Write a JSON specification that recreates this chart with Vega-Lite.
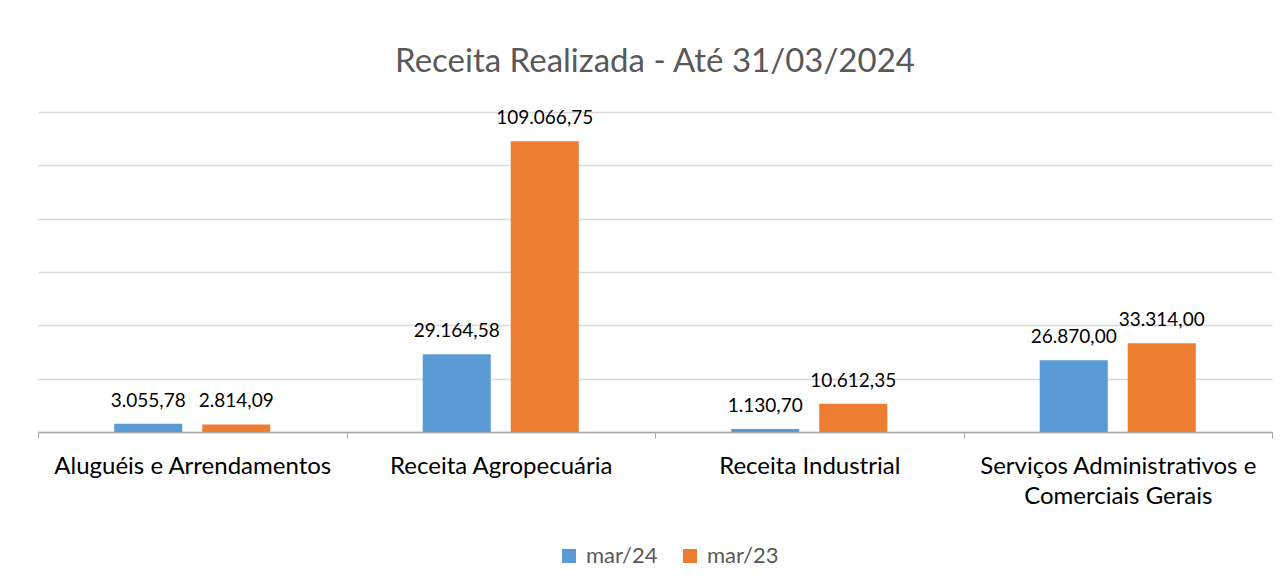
{
  "$schema": "https://vega.github.io/schema/vega-lite/v6.json",
  "width": 1234,
  "height": 320,
  "autosize": "none",
  "padding": {"left": 38, "top": 112, "right": 15, "bottom": 151},
  "background": "white",
  "title": {
    "text": "Receita Realizada - Até 31/03/2024",
    "anchor": "middle",
    "frame": "group",
    "font": "Lato",
    "fontSize": 33,
    "fontWeight": "normal",
    "color": "#595959",
    "offset": 30
  },
  "config": {
    "locale": {"number": {"decimal": ",", "thousands": ".", "grouping": [3], "currency": ["R$", ""]}},
    "view": {"stroke": null},
    "font": "Lato"
  },
  "data": {
    "values": [
      {"categoria": "Aluguéis e Arrendamentos", "periodo": "mar/24", "valor": 3055.78},
      {"categoria": "Aluguéis e Arrendamentos", "periodo": "mar/23", "valor": 2814.09},
      {"categoria": "Receita Agropecuária", "periodo": "mar/24", "valor": 29164.58},
      {"categoria": "Receita Agropecuária", "periodo": "mar/23", "valor": 109066.75},
      {"categoria": "Receita Industrial", "periodo": "mar/24", "valor": 1130.70},
      {"categoria": "Receita Industrial", "periodo": "mar/23", "valor": 10612.35},
      {"categoria": "Serviços Administrativos e Comerciais Gerais", "periodo": "mar/24", "valor": 26870.00},
      {"categoria": "Serviços Administrativos e Comerciais Gerais", "periodo": "mar/23", "valor": 33314.00}
    ]
  },
  "encoding": {
    "x": {
      "field": "categoria",
      "type": "nominal",
      "sort": null,
      "scale": {"paddingInner": 0, "paddingOuter": 0},
      "axis": {
        "title": null,
        "labelAngle": 0,
        "labelFont": "Lato",
        "labelFontSize": 24,
        "labelColor": "#000000",
        "labelPadding": 16,
        "labelLineHeight": 30,
        "labelBaseline": "top",
        "labelLimit": 0,
        "labelExpr": "datum.value == 'Serviços Administrativos e Comerciais Gerais' ? ['Serviços Administrativos e', 'Comerciais Gerais'] : datum.value",
        "tickBand": "extent",
        "tickSize": 6,
        "tickColor": "#a6a6a6",
        "domainColor": "#a6a6a6",
        "domainWidth": 1.5,
        "grid": false
      }
    },
    "xOffset": {
      "field": "periodo",
      "type": "nominal",
      "sort": ["mar/24", "mar/23"],
      "scale": {"paddingInner": 0.227, "paddingOuter": 0.866}
    },
    "y": {
      "field": "valor",
      "type": "quantitative",
      "scale": {"domain": [0, 120000], "nice": false},
      "axis": {
        "title": null,
        "values": [0, 20000, 40000, 60000, 80000, 100000, 120000],
        "labels": false,
        "ticks": false,
        "domain": false,
        "grid": true,
        "gridColor": "#d9d9d9",
        "gridWidth": 1.5
      }
    }
  },
  "layer": [
    {
      "mark": {"type": "bar"},
      "encoding": {
        "color": {
          "field": "periodo",
          "type": "nominal",
          "sort": ["mar/24", "mar/23"],
          "scale": {"domain": ["mar/24", "mar/23"], "range": ["#5B9BD5", "#ED7D31"]},
          "legend": {
            "title": null,
            "orient": "none",
            "direction": "horizontal",
            "legendX": 520,
            "legendY": 433,
            "symbolType": "square",
            "symbolSize": 196,
            "symbolStrokeWidth": 0,
            "labelFont": "Lato",
            "labelFontSize": 22,
            "labelColor": "#595959",
            "labelOffset": 6,
            "columnPadding": 21
          }
        }
      }
    },
    {
      "mark": {"type": "text", "dy": -23, "font": "Lato", "fontSize": 19, "color": "#000000", "baseline": "middle"},
      "encoding": {
        "text": {"field": "valor", "type": "quantitative", "format": ",.2f"}
      }
    }
  ]
}
